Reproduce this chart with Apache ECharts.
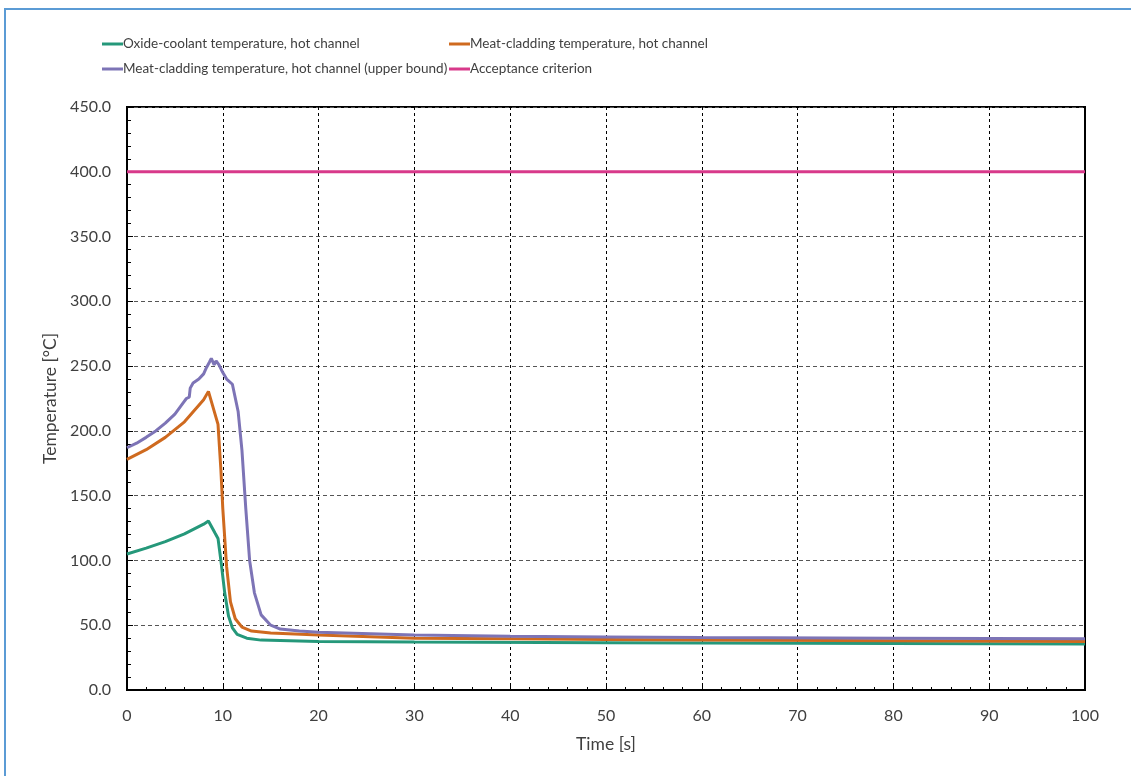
<!DOCTYPE html>
<html>
<head>
<meta charset="utf-8">
<script src="https://cdn.jsdelivr.net/npm/echarts@6/dist/echarts.min.js"></script>
<style>html,body{margin:0;padding:0;background:#fff}#c{width:1131px;height:776px}</style>
</head>
<body>
<div id="c"></div>
<script>
const seriesNames = [
  'Oxide-coolant temperature, hot channel',
  'Meat-cladding temperature, hot channel',
  'Meat-cladding temperature, hot channel (upper bound)',
  'Acceptance criterion'
];
const oxideT = [0,2,4,6,8,8.5,9.2,9.5,9.8,10.2,10.6,11,11.5,12.5,14,20,30,50,70,100];
const oxideV = [105,109.5,114.5,120.5,128,130.5,121,117,100,75,57,48,43,40,38.5,37.5,37,36.5,36,35.5];
const meatT = [0,2,4,6,8,8.5,9.5,9.8,10,10.4,10.8,11.3,12,13,15,20,30,40,50,60,80,100];
const meatV = [178,185.5,195,207,224,230.5,205,170,140,95,68,55,48.5,45.5,44,42.5,40,39.5,39,38.5,38,37.5];
const upperT = [0,1,2,3,4,5,5.9,6.2,6.5,6.6,6.9,7.5,8,8.3,8.6,8.8,9.1,9.3,9.6,10,10.4,10.6,11,11.6,12,12.4,12.8,13.3,14,15,16,18,20,30,40,50,60,80,100];
const upperV = [187,190.5,195,200,206,213,222,225,226,233,237,240,244,249,253,256,251,254,251,245,240,241,236,215,185,140,100,75,58,50,47,45.5,44.5,42.5,41.5,41,40.5,40,39.5];
const critT = [0,100];
const critV = [400,400];
const colors = ['#25987a','#cf6a1f','#7d74b6','#d8398a'];

const pairs = (t,v) => t.map((x,i)=>[x,v[i]]);
const font = 'Lato, "Open Sans", sans-serif';
const chart = echarts.init(document.getElementById('c'));
const mk = (name, data, color) => ({
  name, type:'line', data, showSymbol:false, symbol:'none', smooth:false,
  lineStyle:{color, width:3}, itemStyle:{color}, animation:false
});
const legendText = {fontFamily:font, fontSize:13.5, lineHeight:16, color:'#404040', padding:[0,0,0,-5]};
chart.setOption({
  animation:false,
  graphic:[{type:'rect', shape:{x:5,y:9,width:1200,height:900}, style:{fill:'none', stroke:'#5b9bd5', lineWidth:2}, z:100}],
  legend:[
    {left:102, top:36, padding:0, orient:'vertical', itemGap:9, itemWidth:21, itemHeight:3,
     data:[seriesNames[0], seriesNames[2]], icon:'rect', textStyle:legendText},
    {left:449, top:36, padding:0, orient:'vertical', itemGap:9, itemWidth:21, itemHeight:3,
     data:[seriesNames[1], seriesNames[3]], icon:'rect', textStyle:legendText}
  ],
  grid:{left:127, right:46, top:107, bottom:86, show:true, borderColor:'#000', borderWidth:2},
  xAxis:{
    type:'value', min:0, max:100, interval:10,
    name:'Time [s]', nameLocation:'middle', nameGap:45,
    nameTextStyle:{fontFamily:font, fontSize:17.5, color:'#404040'},
    axisLine:{show:true, lineStyle:{color:'#000', width:2}},
    axisTick:{show:true, inside:true, length:6, lineStyle:{color:'#000'}},
    minorTick:{show:true, splitNumber:5, length:3, lineStyle:{color:'#000'}},
    axisLabel:{fontFamily:font, fontSize:16, color:'#404040', margin:18},
    splitLine:{show:true, lineStyle:{color:'#000', type:[3,3], width:1}}
  },
  yAxis:{
    type:'value', min:0, max:450, interval:50,
    name:'Temperature [°C]', nameLocation:'middle', nameGap:62, nameRotate:90,
    nameTextStyle:{fontFamily:font, fontSize:17.5, color:'#404040'},
    axisLine:{show:true, lineStyle:{color:'#000', width:2}},
    axisTick:{show:true, inside:true, length:6, lineStyle:{color:'#000'}},
    minorTick:{show:true, splitNumber:5, length:4, lineStyle:{color:'#000'}},
    axisLabel:{fontFamily:font, fontSize:16, color:'#404040', margin:16,
      formatter:v=>v.toFixed(1)},
    splitLine:{show:true, lineStyle:{color:'#555', type:[4,3], width:1}}
  },
  series:[
    mk(seriesNames[0], pairs(oxideT, oxideV), colors[0]),
    mk(seriesNames[1], pairs(meatT, meatV), colors[1]),
    mk(seriesNames[2], pairs(upperT, upperV), colors[2]),
    mk(seriesNames[3], pairs(critT, critV), colors[3])
  ]
});
</script>
</body>
</html>
